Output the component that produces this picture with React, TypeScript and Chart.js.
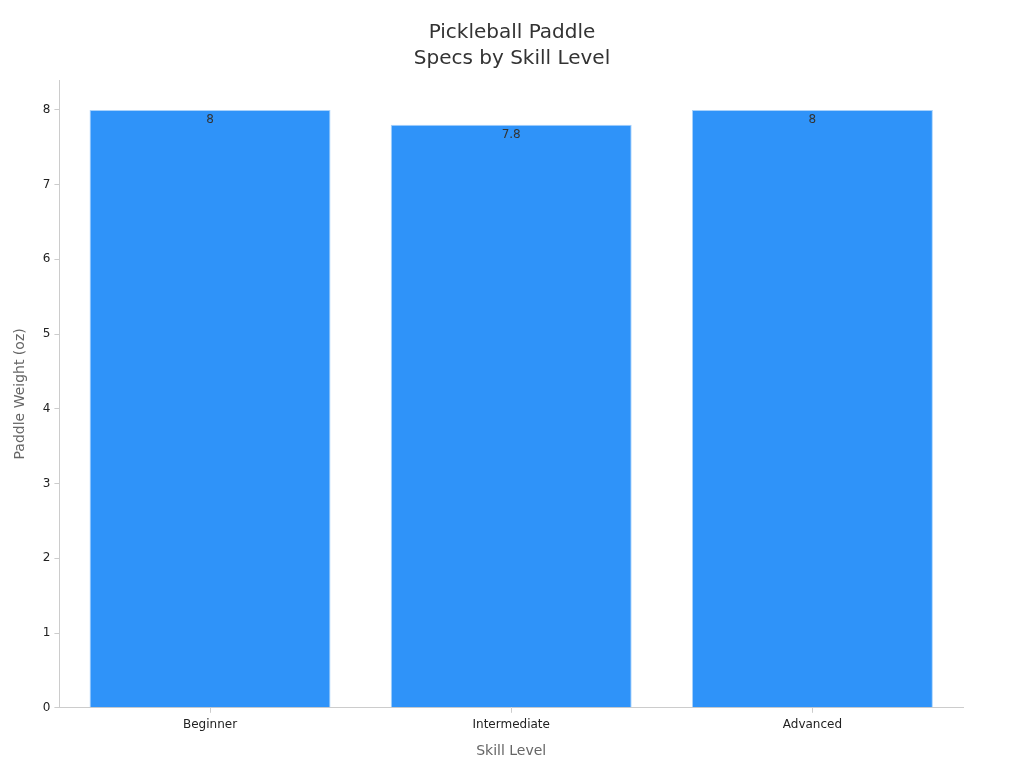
import React, { useEffect, useRef } from 'react';
import Chart from 'chart.js/auto';

const titleLines = ['Pickleball Paddle', 'Specs by Skill Level'];
const skillLevels = ['Beginner', 'Intermediate', 'Advanced'];
const paddleWeights = [8, 7.8, 8];
const yTicks = [0, 1, 2, 3, 4, 5, 6, 7, 8];

// title centred on the whole canvas, not on the padded box
const centeredTitle = {
  id: 'centeredTitle',
  afterDraw(chart: any) {
    const ctx = chart.ctx;
    ctx.save();
    ctx.font = '20px "DejaVu Sans"';
    ctx.fillStyle = '#333333';
    ctx.textAlign = 'center';
    ctx.textBaseline = 'middle';
    titleLines.forEach((line, i) => {
      ctx.fillText(line, chart.width / 2, 33 + i * 26);
    });
    ctx.restore();
  },
};

// draws each value just under the top of its bar
const valueLabels = {
  id: 'valueLabels',
  afterDatasetsDraw(chart: any) {
    const ctx = chart.ctx;
    const meta = chart.getDatasetMeta(0);
    ctx.save();
    ctx.font = '12px "DejaVu Sans"';
    ctx.fillStyle = '#333333';
    ctx.textAlign = 'center';
    ctx.textBaseline = 'top';
    meta.data.forEach((bar: any, i: number) => {
      ctx.fillText(String(chart.data.datasets[0].data[i]), bar.x, bar.y + 4);
    });
    ctx.restore();
  },
};

export default function App() {
  const chartRef = useRef<HTMLCanvasElement>(null);
  const chartInstance = useRef<Chart | null>(null);

  useEffect(() => {
    document.body.style.margin = '0';
    if (!chartRef.current) return;
    if (chartInstance.current) chartInstance.current.destroy();
    const ctx = chartRef.current.getContext('2d');
    if (!ctx) return;

    chartInstance.current = new Chart(ctx, {
      type: 'bar',
      data: {
        labels: skillLevels,
        datasets: [
          {
            label: 'Paddle Weight (oz)',
            data: paddleWeights,
            backgroundColor: '#2f93f9',
            borderColor: '#a9d2fb',
            borderWidth: 1,
            barPercentage: 0.8,
            categoryPercentage: 1,
          },
        ],
      },
      options: {
        responsive: false,
        animation: false,
        layout: { padding: { left: 8, right: 61, top: 80, bottom: 4 } },
        font: { family: '"DejaVu Sans"' },
        plugins: {
          legend: { display: false },
          tooltip: { enabled: false },
          title: { display: false },
        },
        scales: {
          x: {
            grid: { display: true, offset: false, drawOnChartArea: false, drawTicks: true, tickLength: 5, color: '#cccccc' },
            border: { color: '#cccccc' },
            ticks: { color: '#222222', font: { family: '"DejaVu Sans"', size: 12 }, padding: 5 },
            title: {
              display: true,
              text: 'Skill Level',
              color: '#666666',
              font: { family: '"DejaVu Sans"', size: 14 },
              padding: { top: 6 },
            },
          },
          y: {
            min: 0,
            max: 8.4,
            afterBuildTicks: (axis: any) => {
              axis.ticks = yTicks.map((v) => ({ value: v }));
            },
            grid: { display: true, drawOnChartArea: false, drawTicks: true, tickLength: 5, color: '#cccccc' },
            border: { color: '#cccccc' },
            ticks: { color: '#222222', font: { family: '"DejaVu Sans"', size: 12 }, padding: 4 },
            title: {
              display: true,
              text: 'Paddle Weight (oz)',
              color: '#666666',
              font: { family: '"DejaVu Sans"', size: 14 },
              padding: { bottom: 10 },
            },
          },
        },
      },
      plugins: [valueLabels, centeredTitle],
    });

    return () => {
      if (chartInstance.current) {
        chartInstance.current.destroy();
        chartInstance.current = null;
      }
    };
  }, []);

  return (
    <div id="barChart">
      <canvas ref={chartRef} width={1024} height={768} />
    </div>
  );
}
